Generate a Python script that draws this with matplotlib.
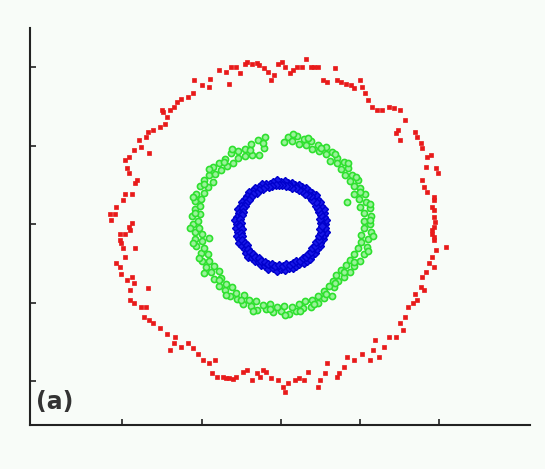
import matplotlib
matplotlib.use("Agg")
import matplotlib.pyplot as plt

# ---- data (units: 2 per tick) ----
red_x = [-0.86, -0.73, -0.60, -0.55, -0.42, -0.33, -0.25, -0.16, -0.07, 0.02, 0.11, 0.24, 0.32, 0.41, 0.54,
         0.63, 0.76, 0.85, 0.94, 1.07, 1.16, 1.38, 1.42, 1.51, 1.64, 1.77, 1.86, 1.99, 2.04, 2.12, 2.21,
         2.30, 2.43, 2.56, 2.74, 2.87, 3.00, 2.96, 2.91, 3.00, 3.13, 3.39, 3.44, 3.53, 3.57, 3.70, 3.79,
         3.92, 3.97, 3.66, 3.57, 3.61, 3.70, 3.88, 3.83, 3.88, 3.86, 3.83, 3.88, 4.18, 3.92, 3.83, 3.88,
         3.75, 3.66, 3.57, 3.53, 3.61, 3.39, 3.44, 3.35, 3.22, 3.13, 3.00, 3.09, 2.91, 2.74, 2.61, 2.39,
         2.34, 2.25, 2.47, 2.04, 1.86, 1.68, 1.60, 1.46, 1.42, 1.16, 1.11, 0.98, 0.94, 0.68, 0.59, 0.46,
         0.37, 0.19, 0.11, 0.06, -0.07, -0.25, -0.38, -0.46, -0.60, -0.73, -0.86, -0.95, -1.12, -1.30,
         -1.47, -1.61, -1.65, -1.74, -1.82, -1.96, -2.09, -2.22, -2.35, -2.53, -2.70, -2.79, -2.66, -2.88,
         -3.05, -3.23, -3.32, -3.45, -3.36, -3.40, -3.54, -3.71, -3.80, -3.80, -3.71, -3.75, -3.89, -4.02,
         -4.06, -4.15, -3.93, -3.97, -4.02, -4.06, -3.80, -3.93, -3.84, -3.75, -4.06, -3.67, -4.19, -4.28,
         -4.32, -4.15, -3.97, -3.93, -3.75, -3.67, -3.62, -3.84, -3.89, -3.93, -3.84, -3.71, -3.54, -3.58,
         -3.40, -3.32, -3.36, -3.23, -3.05, -2.92, -2.88, -2.96, -3.01, -2.79, -2.70, -2.61, -2.53, -2.35,
         -2.22, -2.18, -2.00, -1.82, -1.78, -1.56, -1.39, -1.30, -1.25, -1.12, -1.04, -0.90,
         3.86, 3.88, 3.89, 3.83, 3.88, -1.38, -1.21, -0.52]
red_y = [4.14, 4.09, 4.11, 4.05, 3.97, 3.88, 3.67, 3.80, 4.09, 4.14, 4.01, 3.84, 3.92, 4.01, 4.01,
         4.22, 4.01, 4.01, 4.01, 3.67, 3.63, 3.97, 3.67, 3.63, 3.58, 3.54, 3.46, 3.67, 3.50, 3.33, 3.16,
         2.99, 2.90, 2.90, 2.99, 2.95, 2.90, 2.39, 2.31, 2.14, 2.65, 2.35, 2.23, 2.06, 1.93, 1.72, 1.76,
         1.42, 1.29, 1.46, 1.12, 0.95, 0.82, 0.70, 0.44, 0.19, -0.07, -0.24, -0.41, -0.58, -0.66, -0.83,
         -1.09, -1.00, -1.21, -1.34, -1.60, -1.68, -1.77, -1.94, -2.02, -2.11, -2.36, -2.53, -2.70, -2.87,
         -2.87, -3.13, -2.96, -3.21, -3.47, -3.38, -3.30, -3.47, -3.38, -3.64, -3.80, -3.89, -3.55, -3.80,
         -3.97, -4.14, -3.76, -3.97, -3.93, -3.97, -4.06, -4.27, -4.14, -3.97, -3.93, -3.76, -3.72, -3.80,
         -3.97, -3.72, -3.76, -3.89, -3.93, -3.89, -3.89, -3.47, -3.80, -3.55, -3.47, -3.30, -3.17, -3.04,
         -3.13, -3.04, -3.21, -2.87, -2.79, -2.66, -2.53, -2.45, -2.36, -1.64, -2.11, -2.11, -2.02, -1.94,
         -1.68, -1.51, -1.34, -1.43, -1.26, -1.09, -1.00, -0.83, -0.62, -0.49, -0.41, -0.15, -0.24, -0.07,
         0.02, -0.24, -0.62, 0.27, 0.10, 0.27, 0.44, 0.61, 0.78, 0.78, 1.04, 1.12, 1.29, 1.42, 1.63, 1.72,
         1.89, 1.97, 2.14, 2.23, 1.80, 2.35, 2.39, 2.48, 2.56, 2.73, 2.86, 2.90, 2.90, 2.99, 3.12, 3.20,
         3.24, 3.33, 3.67, 3.54, 3.50, 3.71, 3.92, 3.88, 3.58, 4.01, 4.01, 3.84, 4.09,
         0.61, 0.36, 0.06, -0.15, -0.32, -3.91, -3.95, -3.90]

green_x = [2.26, 2.29, 2.25, 2.14, 2.12, 1.99, 1.94, 1.79, 1.70, 1.59, 1.41, 1.29, 1.14, 0.94, 0.77, 0.58,
           0.40, 0.19, -0.39, -0.57, -0.75, -0.90, -1.08, -1.26, -1.40, -1.57, -1.72, -1.80, -1.93, -2.05,
           -2.14, -2.16, -2.17, -2.25, -2.22, -2.17, -2.17, -2.14, -2.02, -1.99, -1.89, -1.75, -1.69, -1.57,
           -1.40, -1.29, -1.10, -0.95, -0.76, -0.59, -0.38, -0.20, 0.00, 0.20, 0.39, 0.57, 0.77, 0.94, 1.09,
           1.29, 1.35, 1.45, 1.59, 1.74, 1.86, 1.99, 2.11, 2.18, 2.19, 2.27,
           2.10, 2.10, 2.00, 1.98, 1.86, 1.86, 1.74, 1.62, 1.53, 1.42, 1.25, 1.14, 0.97, 0.80, 0.64, 0.45,
           0.28, 0.09, -0.43, -0.56, -0.73, -0.90, -1.07, -1.20, -1.36, -1.51, -1.65, -1.70, -1.83, -1.94,
           -2.02, -2.03, -2.03, -2.10, -2.06, -1.98, -1.99, -1.93, -1.83, -1.82, -1.69, -1.55, -1.50, -1.39,
           -1.23, -1.12, -0.94, -0.80, -0.62, -0.46, -0.27, -0.09, 0.09, 0.28, 0.45, 0.62, 0.80, 0.95, 1.08,
           1.22, 1.32, 1.40, 1.53, 1.64, 1.75, 1.86, 1.96, 2.03, 2.02, 2.10,
           2.24, 2.24, 2.01, 1.90, 1.69, 1.36, 1.02, 0.69, 0.30, -0.46, -0.78, -1.22, -1.44, -1.82, -1.95,
           -2.21, -2.16, -2.30, -2.22, -2.07, -1.94, -1.56, -1.39, -1.01, -0.70, -0.28, 0.10, 0.49, 0.84,
           1.14, 1.36, 1.59, 1.86, 2.19, 2.32,
           1.68, -1.80]
green_y = [0.00, 0.20, 0.40, 0.57, 0.77, 0.93, 1.12, 1.25, 1.43, 1.59, 1.69, 1.83, 1.97, 2.01, 2.12, 2.16,
           2.25, 2.21, 2.22, 2.14, 2.05, 1.92, 1.86, 1.80, 1.67, 1.57, 1.45, 1.26, 1.12, 0.96, 0.78, 0.58,
           0.38, 0.20, 0.00, -0.19, -0.38, -0.57, -0.74, -0.93, -1.09, -1.23, -1.41, -1.57, -1.67, -1.83,
           -1.91, -2.04, -2.09, -2.20, -2.17, -2.25, -2.22, -2.29, -2.21, -2.13, -2.12, -2.01, -1.89, -1.83,
           -1.61, -1.45, -1.34, -1.22, -1.08, -0.93, -0.77, -0.59, -0.39, -0.20,
           0.09, 0.28, 0.44, 0.63, 0.77, 0.97, 1.11, 1.24, 1.40, 1.55, 1.62, 1.79, 1.86, 1.92, 2.02, 2.05,
           2.12, 2.08, 1.95, 1.76, 1.77, 1.73, 1.69, 1.57, 1.49, 1.38, 1.27, 1.08, 0.95, 0.80, 0.64, 0.45,
           0.27, 0.09, -0.09, -0.26, -0.44, -0.61, -0.76, -0.95, -1.07, -1.19, -1.38, -1.52, -1.60, -1.75,
           -1.81, -1.94, -1.96, -2.07, -2.03, -2.10, -2.08, -2.12, -2.03, -1.95, -1.94, -1.83, -1.70, -1.59,
           -1.44, -1.29, -1.17, -1.05, -0.91, -0.77, -0.62, -0.45, -0.27, -0.09,
           0.10, 0.50, 0.83, 1.21, 1.55, 1.78, 1.95, 2.19, 2.30, 2.07, 1.88, 1.92, 1.58, 1.40, 1.02,
           0.70, 0.28, -0.10, -0.49, -0.86, -1.24, -1.43, -1.81, -1.93, -2.21, -2.16, -2.32, -2.22, -2.03,
           -1.79, -1.49, -1.22, -0.97, -0.69, -0.31,
           0.57, -0.35]

blue_x = [1.12, 1.14, 1.08, 1.09, 1.08, 1.01, 0.99, 0.92, 0.89, 0.80, 0.71, 0.64, 0.54, 0.47, 0.36, 0.28,
          0.19, 0.10, 0.00, -0.10, -0.19, -0.28, -0.38, -0.48, -0.55, -0.65, -0.71, -0.81, -0.86, -0.90,
          -0.98, -1.01, -1.07, -1.06, -1.10, -1.15, -1.11, -1.13, -1.08, -1.10, -1.05, -1.05, -0.98, -0.90,
          -0.87, -0.83, -0.73, -0.66, -0.56, -0.49, -0.39, -0.31, -0.20, -0.10, 0.00, 0.10, 0.20, 0.30,
          0.39, 0.47, 0.58, 0.65, 0.75, 0.79, 0.87, 0.91, 0.98, 1.00, 1.07, 1.08, 1.13, 1.11,
          1.02, 0.99, 1.01, 0.96, 0.95, 0.89, 0.88, 0.80, 0.77, 0.69, 0.60, 0.54, 0.45, 0.38, 0.29, 0.21,
          0.13, 0.04, -0.04, -0.13, -0.21, -0.30, -0.39, -0.46, -0.55, -0.61, -0.70, -0.74, -0.79, -0.87,
          -0.89, -0.96, -0.95, -0.99, -1.04, -1.01, -1.03, -0.99, -1.01, -0.97, -0.97, -0.91, -0.84, -0.82,
          -0.78, -0.70, -0.64, -0.55, -0.49, -0.40, -0.32, -0.23, -0.14, -0.05, 0.05, 0.13, 0.23, 0.31,
          0.39, 0.48, 0.55, 0.64, 0.69, 0.77, 0.80, 0.87, 0.89, 0.96, 0.97, 1.02, 1.00, 1.03]
blue_y = [0.00, 0.10, 0.19, 0.29, 0.39, 0.47, 0.57, 0.64, 0.75, 0.80, 0.84, 0.92, 0.94, 1.00, 1.00, 1.05,
          1.05, 1.10, 1.08, 1.12, 1.07, 1.03, 1.03, 1.02, 0.95, 0.93, 0.85, 0.81, 0.72, 0.63, 0.57, 0.47,
          0.39, 0.28, 0.19, 0.10, 0.00, -0.10, -0.19, -0.30, -0.38, -0.49, -0.57, -0.63, -0.73, -0.83,
          -0.87, -0.94, -0.97, -1.05, -1.07, -1.14, -1.13, -1.19, -1.14, -1.16, -1.11, -1.13, -1.07, -1.01,
          -1.00, -0.93, -0.89, -0.79, -0.73, -0.64, -0.57, -0.47, -0.39, -0.29, -0.20, -0.10,
          0.04, 0.13, 0.23, 0.30, 0.39, 0.46, 0.56, 0.61, 0.71, 0.75, 0.78, 0.85, 0.87, 0.92, 0.92, 0.97,
          0.97, 1.00, 0.99, 1.00, 0.96, 0.95, 0.94, 0.89, 0.87, 0.79, 0.77, 0.68, 0.61, 0.55, 0.47, 0.40,
          0.30, 0.22, 0.14, 0.04, -0.04, -0.13, -0.23, -0.31, -0.40, -0.48, -0.54, -0.63, -0.72, -0.76,
          -0.83, -0.86, -0.94, -0.96, -1.02, -1.02, -1.07, -1.04, -1.06, -1.02, -1.04, -0.99, -0.94, -0.93,
          -0.87, -0.84, -0.75, -0.70, -0.61, -0.55, -0.46, -0.40, -0.31, -0.23, -0.13, -0.04]

tick_values = [-4, -2, 0, 2, 4]
panel_label = "(a)"

# ---- figure ----
bg = "#f8fcf8"
fig = plt.figure(figsize=(5.45, 4.69), dpi=100, facecolor=bg)
ax = fig.add_axes([0.055, 0.0938, 0.9174, 0.8475], facecolor=bg)

ax.plot(red_x, red_y, linestyle="none", marker="s", markersize=3.4,
        color="#e81a1a", markeredgewidth=0.5)
ax.plot(green_x, green_y, linestyle="none", marker="o", markersize=4.4,
        markerfacecolor="#9af29a", markeredgecolor="#2ee02e", markeredgewidth=1.2)
ax.plot(blue_x, blue_y, linestyle="none", marker="D", markersize=3.9,
        markerfacecolor="#1818e6", markeredgecolor="#0000cc", markeredgewidth=1.0)

ax.set_xlim(-6.33, 6.29)
ax.set_ylim(-5.12, 5.01)
ax.set_xticks(tick_values)
ax.set_yticks(tick_values)
ax.set_xticklabels([])
ax.set_yticklabels([])
ax.tick_params(direction="in", length=4, width=1.2, color="#222222")
for side in ("top", "right"):
    ax.spines[side].set_visible(False)
for side in ("left", "bottom"):
    ax.spines[side].set_linewidth(1.5)
    ax.spines[side].set_color("#222222")

fig.text(0.066, 0.128, panel_label, fontsize=17, fontweight="bold",
         color="#333333", family="DejaVu Sans", ha="left", va="baseline")

fig.savefig("out.png", dpi=100, facecolor=bg)
